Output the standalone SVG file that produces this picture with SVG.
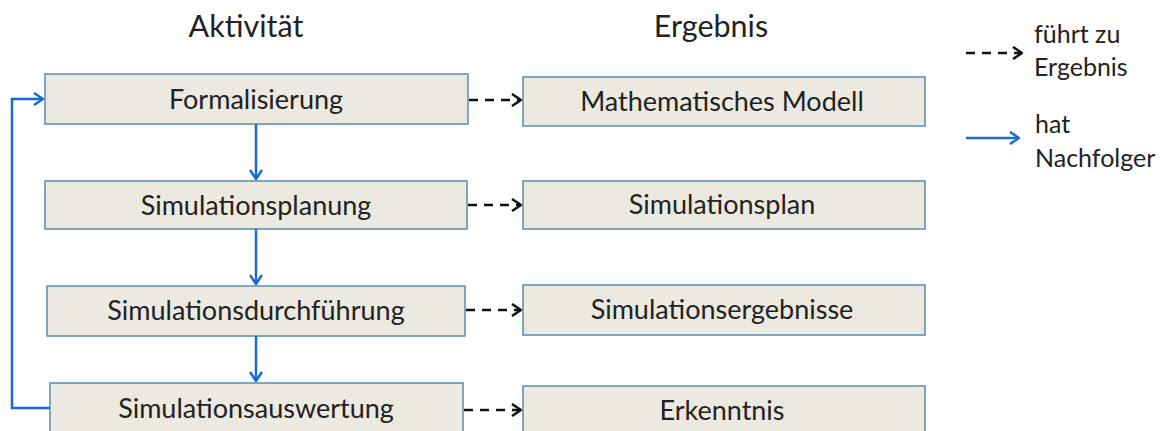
<svg xmlns="http://www.w3.org/2000/svg" width="1167" height="431" viewBox="0 0 1167 431">
<style>
.box{fill:#ECE9E0;stroke:#5A8DB0;stroke-width:1.5}
.t{font-family:Lato,"Open Sans",sans-serif;font-size:27px;fill:#222;text-anchor:middle}
.h{font-family:Lato,"Open Sans",sans-serif;font-size:30.5px;fill:#222;text-anchor:middle}
.l{font-family:Lato,"Open Sans",sans-serif;font-size:25px;fill:#222}
.dash{stroke:#111;stroke-width:2.5;stroke-dasharray:9,7;fill:none}
.blue{stroke:#1A6BD0;stroke-width:2.5;fill:none}
</style>
<defs>
<marker id="ab" markerWidth="12" markerHeight="14" refX="11" refY="7" orient="auto" markerUnits="userSpaceOnUse"><path d="M2,1 L11,7 L2,13" fill="none" stroke="#111" stroke-width="2.5"/></marker>
<marker id="ac" markerWidth="12" markerHeight="14" refX="11" refY="7" orient="auto" markerUnits="userSpaceOnUse"><path d="M2,1 L11,7 L2,13" fill="none" stroke="#1A6BD0" stroke-width="2.5"/></marker>
</defs>
<rect width="1167" height="431" fill="#fff"/>
<text class="h" x="246" y="37">Aktivität</text>
<text class="h" x="711" y="37">Ergebnis</text>
<g id="a1"><rect class="box" x="45" y="74" width="423" height="50"/><text class="t" x="256" y="109">Formalisierung</text></g>
<g id="a2"><rect class="box" x="45" y="181" width="422" height="48"/><text class="t" x="256" y="215">Simulationsplanung</text></g>
<g id="a3"><rect class="box" x="47" y="286" width="418" height="50"/><text class="t" x="256" y="320">Simulationsdurchführung</text></g>
<g id="a4"><rect class="box" x="50" y="383" width="413" height="60"/><text class="t" x="256" y="418">Simulationsauswertung</text></g>
<g id="e1"><rect class="box" x="523" y="77" width="402" height="49"/><text class="t" x="722" y="111">Mathematisches Modell</text></g>
<g id="e2"><rect class="box" x="523" y="181" width="402" height="48"/><text class="t" x="722" y="214">Simulationsplan</text></g>
<g id="e3"><rect class="box" x="523" y="285" width="402" height="50"/><text class="t" x="722" y="319">Simulationsergebnisse</text></g>
<g id="e4"><rect class="box" x="523" y="386" width="402" height="60"/><text class="t" x="722" y="420">Erkenntnis</text></g>
<g id="connectors">
<line class="dash" x1="469" y1="100" x2="521" y2="100" marker-end="url(#ab)"/>
<line class="dash" x1="468" y1="205" x2="521" y2="205" marker-end="url(#ab)"/>
<line class="dash" x1="466" y1="310" x2="521" y2="310" marker-end="url(#ab)"/>
<line class="dash" x1="464" y1="410" x2="521" y2="410" marker-end="url(#ab)"/>
<line class="blue" x1="256" y1="124" x2="256" y2="179" marker-end="url(#ac)"/>
<line class="blue" x1="256" y1="229" x2="256" y2="284" marker-end="url(#ac)"/>
<line class="blue" x1="256" y1="336" x2="256" y2="381" marker-end="url(#ac)"/>
<polyline class="blue" points="50,408 12,408 12,99 43,99" marker-end="url(#ac)"/>
</g>
<g id="legend">
<line class="dash" x1="966" y1="53" x2="1022" y2="53" marker-end="url(#ab)"/>
<text class="l" x="1034" y="43">führt zu</text>
<text class="l" x="1034" y="76">Ergebnis</text>
<line class="blue" x1="966" y1="138" x2="1019" y2="138" marker-end="url(#ac)"/>
<text class="l" x="1035" y="133">hat</text>
<text class="l" x="1035" y="167">Nachfolger</text>
</g>
</svg>
